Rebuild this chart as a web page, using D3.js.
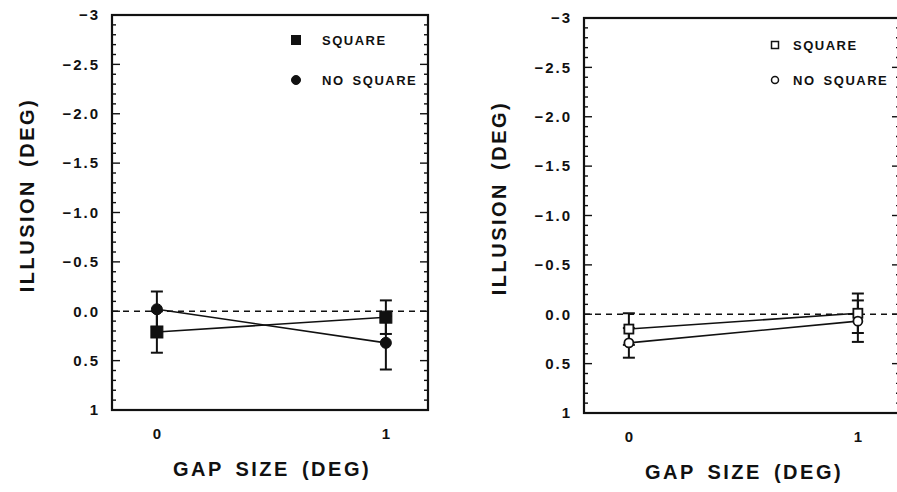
<!DOCTYPE html>
<html>
<head>
<meta charset="utf-8">
<script src="https://cdn.jsdelivr.net/npm/d3@7"></script>
<style>
  body { margin: 0; background: #fff; }
  svg { display: block; font-family: "Liberation Sans", Arial, sans-serif; }
</style>
</head>
<body>
<svg id="chart" width="897" height="492"></svg>
<script>
const gapSizes = [0, 1];
const seriesNames = ["SQUARE", "NO SQUARE"];

// left panel (filled markers)
const leftSquare = [0.21, 0.06];
const leftSquareErr = [0.21, 0.17];
const leftNoSquare = [-0.02, 0.32];
const leftNoSquareErr = [0.18, 0.27];

// right panel (open markers)
const rightSquare = [0.15, -0.01];
const rightSquareErr = [0.16, 0.2];
const rightNoSquare = [0.29, 0.07];
const rightNoSquareErr = [0.15, 0.21];

const yTickValues = [-3, -2.5, -2, -1.5, -1, -0.5, 0, 0.5, 1];
const yTickLabels = ["\u22123", "\u22122.5", "\u22122.0", "\u22121.5", "\u22121.0", "\u22120.5", "0.0", "0.5", "1"];
const xTickLabels = ["0", "1"];

const svg = d3.select("#chart");

const panels = [
  { left: 112, top: 15, filled: true,
    series: [[leftSquare, leftSquareErr], [leftNoSquare, leftNoSquareErr]],
    legendX: 296, legendTextX: 322, legendY: [40, 80] },
  { left: 584, top: 18, filled: false,
    series: [[rightSquare, rightSquareErr], [rightNoSquare, rightNoSquareErr]],
    legendX: 775, legendTextX: 793, legendY: [45, 80] }
];

const plotW = 316, plotH = 395;

panels.forEach((p) => {
  const x = d3.scaleLinear().domain([-0.196, 1.184]).range([p.left, p.left + plotW]);
  const y = d3.scaleLinear().domain([-3, 1]).range([p.top, p.top + plotH]);
  const g = svg.append("g");

  // minor + major ticks, left and right sides, pointing inward
  const minor = d3.range(-3, 1.001, 0.1).map((v) => +v.toFixed(1));
  [x.range()[0], x.range()[1]].forEach((edge, side) => {
    const dir = side === 0 ? 1 : -1;
    g.selectAll(null)
      .data(minor)
      .enter()
      .append("line")
      .attr("x1", edge)
      .attr("x2", (d) => edge + dir * (yTickValues.includes(d) ? 8 : 4))
      .attr("y1", (d) => y(d))
      .attr("y2", (d) => y(d))
      .style("stroke", "#111")
      .style("stroke-width", 1.4);
  });

  // frame
  g.append("rect")
    .attr("x", p.left)
    .attr("y", p.top)
    .attr("width", plotW)
    .attr("height", plotH)
    .style("fill", "none")
    .style("stroke", "#111")
    .style("stroke-width", 2.2);

  // zero reference
  g.append("line")
    .attr("x1", p.left)
    .attr("x2", p.left + plotW)
    .attr("y1", y(0))
    .attr("y2", y(0))
    .style("stroke", "#111")
    .style("stroke-width", 1.6)
    .style("stroke-dasharray", "6,5");

  // y tick labels
  g.selectAll(null)
    .data(yTickValues)
    .enter()
    .append("text")
    .attr("x", p.left - 12)
    .attr("y", (d) => y(d))
    .attr("dy", "0.35em")
    .attr("text-anchor", "end")
    .style("font-size", "15px")
    .style("font-weight", "bold")
    .style("letter-spacing", "2px")
    .style("fill", "#111")
    .text((d, i) => yTickLabels[i]);

  // x tick labels
  g.selectAll(null)
    .data(gapSizes)
    .enter()
    .append("text")
    .attr("x", (d) => x(d))
    .attr("y", p.top + plotH + 29)
    .attr("text-anchor", "middle")
    .style("font-size", "15px")
    .style("font-weight", "bold")
    .style("fill", "#111")
    .text((d, i) => xTickLabels[i]);

  // axis titles
  g.append("text")
    .attr("transform", `translate(${p.left - 78}, ${p.top + 180}) rotate(-90)`)
    .attr("text-anchor", "middle")
    .style("font-size", "20px")
    .style("font-weight", "bold")
    .style("letter-spacing", "2.5px")
    .style("word-spacing", "4px")
    .style("fill", "#111")
    .text("ILLUSION (DEG)");

  g.append("text")
    .attr("x", p.left + 160)
    .attr("y", p.top + plotH + 66)
    .attr("text-anchor", "middle")
    .style("font-size", "20px")
    .style("font-weight", "bold")
    .style("letter-spacing", "2.5px")
    .style("word-spacing", "4px")
    .style("fill", "#111")
    .text("GAP SIZE (DEG)");

  const markerFill = p.filled ? "#111" : "#fff";
  const sq = p.filled ? 12 : 9;
  const cr = p.filled ? 5.5 : 4.5;

  // error bars
  p.series.forEach(([vals, errs]) => {
    gapSizes.forEach((gs, i) => {
      const cx = x(gs);
      g.append("line")
        .attr("x1", cx).attr("x2", cx)
        .attr("y1", y(vals[i] - errs[i]))
        .attr("y2", y(vals[i] + errs[i]))
        .style("stroke", "#111").style("stroke-width", 2);
      [vals[i] - errs[i], vals[i] + errs[i]].forEach((v) => {
        g.append("line")
          .attr("x1", cx - 6).attr("x2", cx + 6)
          .attr("y1", y(v)).attr("y2", y(v))
          .style("stroke", "#111").style("stroke-width", 2);
      });
    });
  });

  // connecting lines
  const line = d3.line().x((d, i) => x(gapSizes[i])).y((d) => y(d));
  p.series.forEach(([vals]) => {
    g.append("path")
      .attr("d", line(vals))
      .style("fill", "none")
      .style("stroke", "#111")
      .style("stroke-width", 1.6);
  });

  // markers
  const [squareVals, noSquareVals] = p.series.map((s) => s[0]);
  g.selectAll(null)
    .data(squareVals)
    .enter()
    .append("rect")
    .attr("x", (d, i) => x(gapSizes[i]) - sq / 2)
    .attr("y", (d) => y(d) - sq / 2)
    .attr("width", sq)
    .attr("height", sq)
    .style("fill", markerFill)
    .style("stroke", "#111")
    .style("stroke-width", p.filled ? 1 : 1.8);

  g.selectAll(null)
    .data(noSquareVals)
    .enter()
    .append("circle")
    .attr("cx", (d, i) => x(gapSizes[i]))
    .attr("cy", (d) => y(d))
    .attr("r", cr)
    .style("fill", markerFill)
    .style("stroke", "#111")
    .style("stroke-width", p.filled ? 1 : 1.8);

  // legend
  const ls = p.filled ? 9 : 7;
  g.append("rect")
    .attr("x", p.legendX - ls / 2)
    .attr("y", p.legendY[0] - ls / 2)
    .attr("width", ls)
    .attr("height", ls)
    .style("fill", markerFill)
    .style("stroke", "#111")
    .style("stroke-width", p.filled ? 1 : 1.5);
  g.append("circle")
    .attr("cx", p.legendX)
    .attr("cy", p.legendY[1])
    .attr("r", p.filled ? 4.5 : 3.5)
    .style("fill", markerFill)
    .style("stroke", "#111")
    .style("stroke-width", p.filled ? 1 : 1.5);

  g.selectAll(null)
    .data(seriesNames)
    .enter()
    .append("text")
    .attr("x", p.legendTextX)
    .attr("y", (d, i) => p.legendY[i])
    .attr("dy", "0.35em")
    .style("font-size", "13px")
    .style("font-weight", "bold")
    .style("letter-spacing", "1.5px")
    .style("word-spacing", "3px")
    .style("fill", "#111")
    .text((d) => d);
});
</script>
</body>
</html>
